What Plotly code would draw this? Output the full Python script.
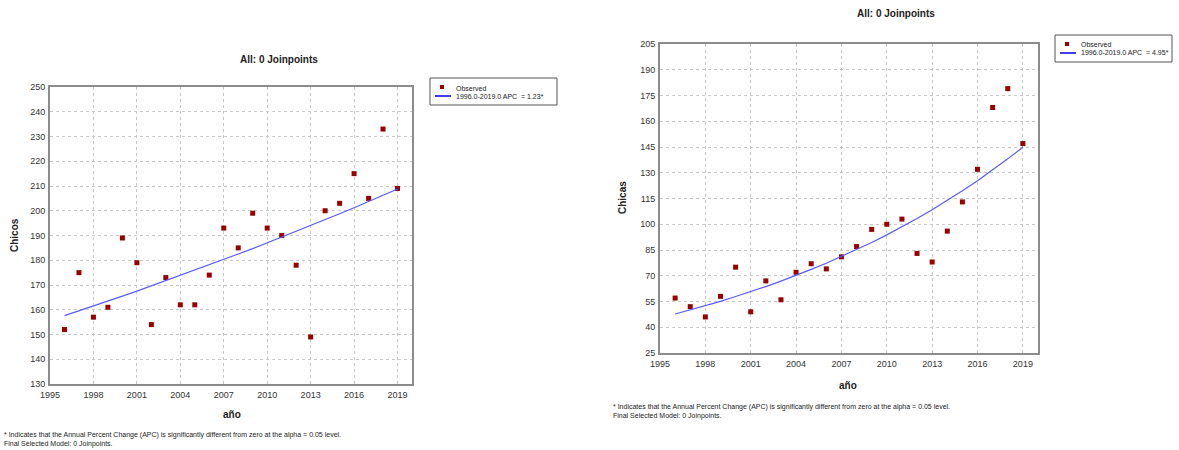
import plotly.graph_objects as go

years = list(range(1996, 2020))

chicos_obs = [152, 175, 157, 161, 189, 179, 154, 173, 162, 162, 174, 193,
              185, 199, 193, 190, 178, 149, 200, 203, 215, 205, 233, 209]
chicos_fit = [157.6, 159.5, 161.5, 163.5, 165.5, 167.5, 169.6, 171.7, 173.8, 175.9,
              178.1, 180.3, 182.5, 184.7, 187.0, 189.3, 191.6, 194.0, 196.4, 198.8,
              201.2, 203.7, 206.2, 208.8]

chicas_obs = [57, 52, 46, 58, 75, 49, 67, 56, 72, 77, 74, 81,
              87, 97, 100, 103, 83, 78, 96, 113, 132, 168, 179, 147]
chicas_fit = [47.7, 50.1, 52.5, 55.1, 57.9, 60.7, 63.7, 66.9, 70.2, 73.7,
              77.3, 81.2, 85.2, 89.4, 93.8, 98.5, 103.3, 108.5, 113.8, 119.5,
              125.4, 131.6, 138.1, 144.9]

x_ticks = [1995, 1998, 2001, 2004, 2007, 2010, 2013, 2016, 2019]
left_yticks = list(range(130, 251, 10))
right_yticks = list(range(25, 206, 15))

left_fit_label = "1996.0-2019.0 APC  = 1.23*"
right_fit_label = "1996.0-2019.0 APC  = 4.95*"
title_text = "All: 0 Joinpoints"
footnote = ("* Indicates that the Annual Percent Change (APC) is significantly different from zero at the alpha = 0.05 level.<br>"
            "Final Selected Model: 0 Joinpoints.")

W, H = 1179, 450
TICKFONT = dict(family="Liberation Sans, Arial", size=9, color="#333333")
MARK = "#990000"
LINE = "#5a5aff"

fig = go.Figure()

fig.add_trace(go.Scatter(x=years, y=chicos_obs, mode="markers", name="Observed",
                         marker=dict(symbol="square", size=5, color=MARK),
                         xaxis="x", yaxis="y", showlegend=False))
fig.add_trace(go.Scatter(x=years, y=chicos_fit, mode="lines", name=left_fit_label,
                         line=dict(color=LINE, width=1.2),
                         xaxis="x", yaxis="y", showlegend=False))
fig.add_trace(go.Scatter(x=years, y=chicas_obs, mode="markers", name="Observed",
                         marker=dict(symbol="square", size=5, color=MARK),
                         xaxis="x2", yaxis="y2", showlegend=False))
fig.add_trace(go.Scatter(x=years, y=chicas_fit, mode="lines", name=right_fit_label,
                         line=dict(color=LINE, width=1.2),
                         xaxis="x2", yaxis="y2", showlegend=False))

def px_x(v):
    return v / W

def px_y(v):
    return 1 - v / H

axis_common = dict(showline=True, mirror=True, linecolor="#8c8c8c", linewidth=2,
                   showgrid=True, gridcolor="#c8c8c8", griddash="dot", gridwidth=1,
                   zeroline=False, ticks="", tickfont=TICKFONT, ticklabelstandoff=1,
                   automargin=False)

fig.update_layout(
    width=W, height=H,
    margin=dict(l=0, r=0, t=0, b=0, autoexpand=False),
    paper_bgcolor="white", plot_bgcolor="white",
    showlegend=False,
    xaxis=dict(domain=[px_x(50), px_x(412)], range=[1995, 2020], tickvals=x_ticks,
               anchor="y", **axis_common),
    yaxis=dict(domain=[px_y(384), px_y(87)], range=[130, 250], tickvals=left_yticks,
               anchor="x", **axis_common),
    xaxis2=dict(domain=[px_x(660), px_x(1038)], range=[1995, 2020], tickvals=x_ticks,
                anchor="y2", **axis_common),
    yaxis2=dict(domain=[px_y(353), px_y(44)], range=[25, 205], tickvals=right_yticks,
                anchor="x2", **axis_common),
)

def ann(text, x, y, size=10, bold=False, xanchor="center", yanchor="middle", angle=0,
        family="Liberation Sans, Arial", align="center"):
    t = f"<b>{text}</b>" if bold else text
    fig.add_annotation(text=t, x=px_x(x), y=px_y(y), xref="paper", yref="paper",
                       xanchor=xanchor, yanchor=yanchor, showarrow=False, textangle=angle,
                       align=align, font=dict(family=family, size=size, color="#222222"))

# manual legends (box, symbol, text)
def legend_box(x0, y0, x1, y1, fit_label):
    fig.add_shape(type="rect", xref="paper", yref="paper",
                  x0=px_x(x0), x1=px_x(x1), y0=px_y(y1), y1=px_y(y0),
                  line=dict(color="#555555", width=1), fillcolor="white")
    mx, my = x0 + 12, y0 + 9
    fig.add_shape(type="rect", xref="paper", yref="paper",
                  x0=px_x(mx - 2), x1=px_x(mx + 2), y0=px_y(my + 2), y1=px_y(my - 2),
                  line=dict(width=0), fillcolor=MARK)
    ly = y0 + 18
    fig.add_shape(type="line", xref="paper", yref="paper",
                  x0=px_x(x0 + 5), x1=px_x(x0 + 21), y0=px_y(ly), y1=px_y(ly),
                  line=dict(color="#0000ee", width=1.5))
    ann("Observed", x0 + 24, my + 1, size=7, xanchor="left")
    ann(fit_label, x0 + 24, ly, size=7, xanchor="left")

legend_box(430, 78, 557, 105, left_fit_label)
legend_box(1055, 35, 1172, 62, right_fit_label)

ann(title_text, 279, 59, size=10, bold=True)
ann(title_text, 896, 14, size=10, bold=True)
ann("año", 232, 414, size=10, bold=True)
ann("año", 848, 385, size=10, bold=True)
ann("Chicos", 14, 235, size=10, bold=True, angle=-90)
ann("Chicas", 623, 198, size=10, bold=True, angle=-90)
ann(footnote, 2, 429, size=7, xanchor="left", yanchor="top", align="left")
ann(footnote, 611, 401, size=7, xanchor="left", yanchor="top", align="left")

fig.write_html("out.html", config={"displayModeBar": False},
               post_script="document.body.style.margin='0';document.body.style.padding='0';")
